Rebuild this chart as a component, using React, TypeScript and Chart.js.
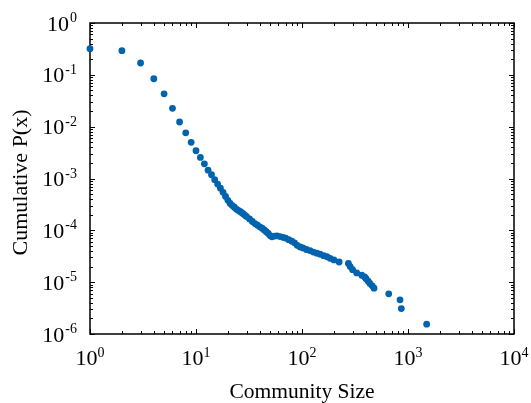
import React, { useEffect, useRef } from "react";
import { Chart, registerables } from "chart.js";

Chart.register(...registerables);

const communitySizes = [1,2,3,4,5,6,7,8,9,10,11,12,13,14,15,16,17,18,19,20,21,22,23,24,25,26,27,28,29,30,32,34,36,38,40,42,44,46,48,50,52,55,58,62,66,70,75,80,85,90,96,102,110,119,128,138,148,160,172,184,200,224,274,285,300,328,366,390,402,420,437,460,478,658,841,865,1500];
const cumulativeP = [0.319,0.292,0.169,0.084,0.043,0.0226,0.0123,0.0076,0.00498,0.00343,0.00255,0.00192,0.00145,0.00118,0.00095,0.00078,0.00065,0.00054,0.00045,0.00038,0.00033,0.0003,0.00028,0.000257,0.000243,0.000232,0.000219,0.000207,0.000195,0.000184,0.000166,0.000148,0.000135,0.000126,0.000117,0.00011,0.000102,0.0000944,0.000087,0.0000794,0.000075,0.0000776,0.0000785,0.0000759,0.0000733,0.0000708,0.0000661,0.0000617,0.0000575,0.0000513,0.0000479,0.0000457,0.0000427,0.0000407,0.000038,0.0000363,0.0000347,0.0000324,0.0000309,0.0000288,0.0000269,0.0000245,0.0000229,0.00002,0.0000174,0.0000151,0.0000136,0.0000126,0.0000117,0.0000105,0.00000944,0.0000085,0.00000767,0.00000596,0.00000457,0.00000309,0.00000155];

const xTickExponents = [0, 1, 2, 3, 4];
const yTickExponents = [0, -1, -2, -3, -4, -5, -6];
const xTitle = "Community Size";
const yTitle = "Cumulative P(x)";

const FONT = '"Liberation Serif", "Times New Roman", serif';

const axesPlugin = {
  id: "axesPlugin",
  beforeDatasetsDraw(chart: any) {
    const ctx = chart.ctx;
    const { left, right, top, bottom } = chart.chartArea;
    const xs = chart.scales.x;
    const ys = chart.scales.y;
    ctx.save();
    ctx.strokeStyle = "#000";
    ctx.lineWidth = 1.5;
    ctx.strokeRect(left, top, right - left, bottom - top);
    ctx.lineWidth = 1;
    for (let e = xTickExponents[0]; e < xTickExponents[xTickExponents.length - 1] + 1; e++) {
      for (let m = 1; m <= 9; m++) {
        const v = m * Math.pow(10, e);
        if (v > xs.max * 1.0001) break;
        const p = Math.round(xs.getPixelForValue(v)) + 0.5;
        const len = m === 1 ? 5 : 3;
        ctx.beginPath();
        ctx.moveTo(p, bottom); ctx.lineTo(p, bottom - len);
        ctx.moveTo(p, top); ctx.lineTo(p, top + len);
        ctx.stroke();
      }
    }
    for (let e = yTickExponents[yTickExponents.length - 1]; e <= yTickExponents[0]; e++) {
      for (let m = 1; m <= 9; m++) {
        const v = m * Math.pow(10, e);
        if (v > ys.max * 1.0001) break;
        const p = Math.round(ys.getPixelForValue(v)) + 0.5;
        const len = m === 1 ? 5 : 3;
        ctx.beginPath();
        ctx.moveTo(left, p); ctx.lineTo(left + len, p);
        ctx.moveTo(right, p); ctx.lineTo(right - len, p);
        ctx.stroke();
      }
    }
    ctx.fillStyle = "#000";
    ctx.textBaseline = "alphabetic";
    const bigFont = `22px ${FONT}`;
    const smallFont = `14px ${FONT}`;
    for (const e of xTickExponents) {
      const p = xs.getPixelForValue(Math.pow(10, e));
      ctx.font = bigFont;
      const w1 = ctx.measureText("10").width;
      ctx.font = smallFont;
      const w2 = ctx.measureText(String(e)).width;
      const x0 = p - (w1 + w2) / 2;
      ctx.font = bigFont;
      ctx.textAlign = "left";
      ctx.fillText("10", x0, bottom + 31);
      ctx.font = smallFont;
      ctx.fillText(String(e), x0 + w1, bottom + 23);
    }
    for (const e of yTickExponents) {
      const p = ys.getPixelForValue(Math.pow(10, e));
      const es = e === 0 ? "0" : "-" + Math.abs(e);
      ctx.font = bigFont;
      const w1 = ctx.measureText("10").width;
      ctx.font = smallFont;
      const w2 = ctx.measureText(es).width;
      const x0 = left - 14 - (w1 + w2);
      ctx.textAlign = "left";
      ctx.font = bigFont;
      ctx.fillText("10", x0, p + 7.5);
      ctx.font = smallFont;
      ctx.fillText(es, x0 + w1 + 1, p - 1);
    }
    ctx.font = `21.5px ${FONT}`;
    ctx.textAlign = "center";
    ctx.fillText(xTitle, (left + right) / 2, 398);
    ctx.save();
    ctx.translate(21, (top + bottom) / 2 + 4);
    ctx.rotate(-Math.PI / 2);
    ctx.font = `22px ${FONT}`;
    ctx.textBaseline = "middle";
    ctx.fillText(yTitle, 0, 0);
    ctx.restore();
    ctx.restore();
  },
};

export default function App() {
  const ref = useRef<HTMLCanvasElement | null>(null);
  useEffect(() => {
    if (!ref.current) return;
    const chart = new Chart(ref.current, {
      type: "scatter",
      data: {
        datasets: [
          {
            data: communitySizes.map((x, i) => ({ x, y: cumulativeP[i] })),
            backgroundColor: "#0063AE",
            borderWidth: 0,
            pointRadius: 3.4,
            clip: false as any,
          },
        ],
      },
      options: {
        animation: false,
        responsive: false,
        devicePixelRatio: 1,
        layout: { padding: { left: 0, right: 17, top: 23, bottom: 0 } },
        plugins: { legend: { display: false }, tooltip: { enabled: false } },
        scales: {
          x: {
            type: "logarithmic",
            min: 1,
            max: 10000,
            ticks: { display: false },
            grid: { display: false },
            border: { display: false },
            afterFit: (s: any) => { s.height = 69; },
          },
          y: {
            type: "logarithmic",
            min: 1e-6,
            max: 1,
            ticks: { display: false },
            grid: { display: false },
            border: { display: false },
            afterFit: (s: any) => { s.width = 90; },
          },
        },
      },
      plugins: [axesPlugin],
    });
    return () => chart.destroy();
  }, []);
  return (
    <div style={{ position: "absolute", left: 0, top: 0, width: 531, height: 403, background: "#fff" }}>
      <canvas ref={ref} width={531} height={403} />
    </div>
  );
}
